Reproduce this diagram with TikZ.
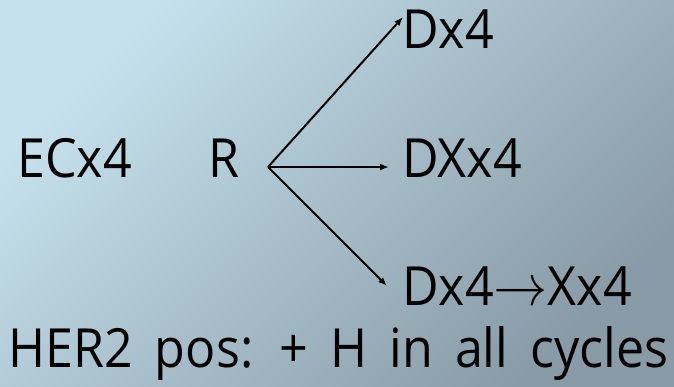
\documentclass[tikz,border=0pt]{standalone}
\usepackage{fontspec}
\usepackage{unicode-math}
\setmainfont{Open Sans}[FakeStretch=0.93]
\usetikzlibrary{arrows.meta}

\definecolor{bgtop}{HTML}{C6E1ED}
\definecolor{bgbot}{HTML}{889BA6}

\begin{document}
\begin{tikzpicture}[
    x=1pt, y=-1pt,
    every node/.style={font=\fontsize{54}{60}\selectfont, inner sep=0pt, anchor=base west},
    >={Latex[length=9pt,width=7pt]},
    flow/.style={->, line width=2pt},
]

% === Background ===
\shade[top color=bgtop, bottom color=bgbot, shading angle=45] (0,0) rectangle (674,386);
\useasboundingbox (0,0) rectangle (674,386);

% === Labels ===
\node (ec)   at (17,177)  {ECx4};
\node (r)    at (208,177) {R};
\node (d)    at (402,48)  {Dx4};
\node (dx)   at (402,177) {DXx4};
\node (dseq) at (402,305) {Dx4\scalebox{1.0}[1.1]{$\rightarrow$}Xx4};
\node (her)  at (8,367)   {\spaceskip=22pt HER2 pos: + H in all cycles};

% === Randomisation fork ===
\coordinate (fork) at (268,167);
\coordinate (tipD)  at (403,17);
\coordinate (tipDX) at (389,167);
\coordinate (tipDS) at (387,286);

\draw[flow] (fork) -- (tipD);
\draw[flow] (fork) -- (tipDX);
\draw[flow] (fork) -- (tipDS);

\end{tikzpicture}
\end{document}
